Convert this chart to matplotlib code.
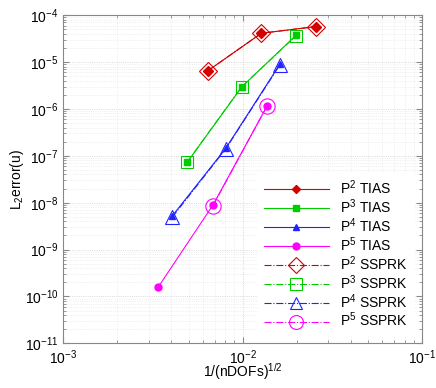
import matplotlib
matplotlib.use('Agg')
from matplotlib import pyplot as plt
from matplotlib.ticker import LogLocator, NullFormatter

plt.rcParams['font.family'] = ['Liberation Sans', 'DejaVu Sans']
plt.rcParams['mathtext.fontset'] = 'custom'
plt.rcParams['mathtext.rm'] = 'Liberation Sans'

# 1/sqrt(nDOFs) and L2 error
h_p2 = [0.0064, 0.0127, 0.0255]
e_p2_tias = [6.5e-6, 4.1e-5, 5.7e-5]
e_p2_ssprk = [6.5e-6, 4.1e-5, 5.7e-5]

h_p3 = [0.0049, 0.0099, 0.0198]
e_p3_tias = [7.2e-8, 2.95e-6, 3.7e-5]
e_p3_ssprk = [7.3e-8, 3.0e-6, 3.6e-5]

h_p4 = [0.00405, 0.00805, 0.0161]
e_p4_tias = [5.2e-9, 1.44e-7, 8.9e-6]
e_p4_ssprk = [4.9e-9, 1.40e-7, 8.6e-6]

h_p5 = [0.00339, 0.00683, 0.01365]
e_p5_tias = [1.6e-10, 8.9e-9, 1.13e-6]
h_p5_ssprk = [0.00683, 0.01365]
e_p5_ssprk = [8.6e-9, 1.13e-6]

labels_tias = ['P$^2$ TIAS', 'P$^3$ TIAS', 'P$^4$ TIAS', 'P$^5$ TIAS']
labels_ssprk = ['P$^2$ SSPRK', 'P$^3$ SSPRK', 'P$^4$ SSPRK', 'P$^5$ SSPRK']
colors = ['#d40000', '#00cc00', '#2222ff', '#ff00ff']

fig = plt.figure(figsize=(4.36, 3.88), dpi=100)
ax = fig.add_axes([0.145, 0.115, 0.823, 0.846])

tias = [(h_p2, e_p2_tias, 'D'), (h_p3, e_p3_tias, 's'),
        (h_p4, e_p4_tias, '^'), (h_p5, e_p5_tias, 'o')]
ssprk = [(h_p2, e_p2_ssprk, 'D', 9), (h_p3, e_p3_ssprk, 's', 9),
         (h_p4, e_p4_ssprk, '^', 10), (h_p5_ssprk, e_p5_ssprk, 'o', 11)]

for (x, y, m), c, lab in zip(tias, colors, labels_tias):
    ax.loglog(x, y, '-', color=c, marker=m, markersize=5, lw=0.8, label=lab)
for (x, y, m, ms), c, lab in zip(ssprk, colors, labels_ssprk):
    ax.loglog(x, y, '-.', color=c, marker=m, markersize=ms, lw=0.8,
              markerfacecolor='none', markeredgewidth=0.8, label=lab)

ax.set_xlim(1e-3, 1e-1)
ax.set_ylim(1e-11, 1e-4)
ax.xaxis.set_major_locator(LogLocator(base=10, numticks=10))
ax.yaxis.set_major_locator(LogLocator(base=10, numticks=10))
ax.xaxis.set_minor_locator(LogLocator(base=10, subs=range(2, 10), numticks=20))
ax.yaxis.set_minor_locator(LogLocator(base=10, subs=range(2, 10), numticks=20))
ax.yaxis.set_minor_formatter(NullFormatter())
ax.xaxis.set_minor_formatter(NullFormatter())

ax.grid(True, which='major', color='#cccccc', linestyle=':', lw=0.6)
ax.grid(True, which='minor', color='#e4e4e4', linestyle=':', lw=0.5)
ax.tick_params(which='both', direction='in', top=True, right=True,
               colors='#888888', labelcolor='black', labelsize=10)
ax.tick_params(which='major', length=4)
ax.tick_params(which='minor', length=2)
for s in ax.spines.values():
    s.set_color('#888888')

ax.set_xlabel('1/(nDOFs)$^{1/2}$', fontsize=10, labelpad=-4)
ax.set_ylabel('L$_2$error(u)', fontsize=10, labelpad=-1)

leg = ax.legend(loc='lower right', fontsize=10, frameon=True, fancybox=False,
                edgecolor='white', framealpha=1, borderaxespad=0.6,
                handlelength=4.7, handletextpad=0.8, labelspacing=0.02)
for hnd, ms in zip(leg.legend_handles, [4, 4, 4, 5, 8, 8, 8, 10]):
    hnd.set_markersize(ms)

fig.savefig('out.png', dpi=100)
